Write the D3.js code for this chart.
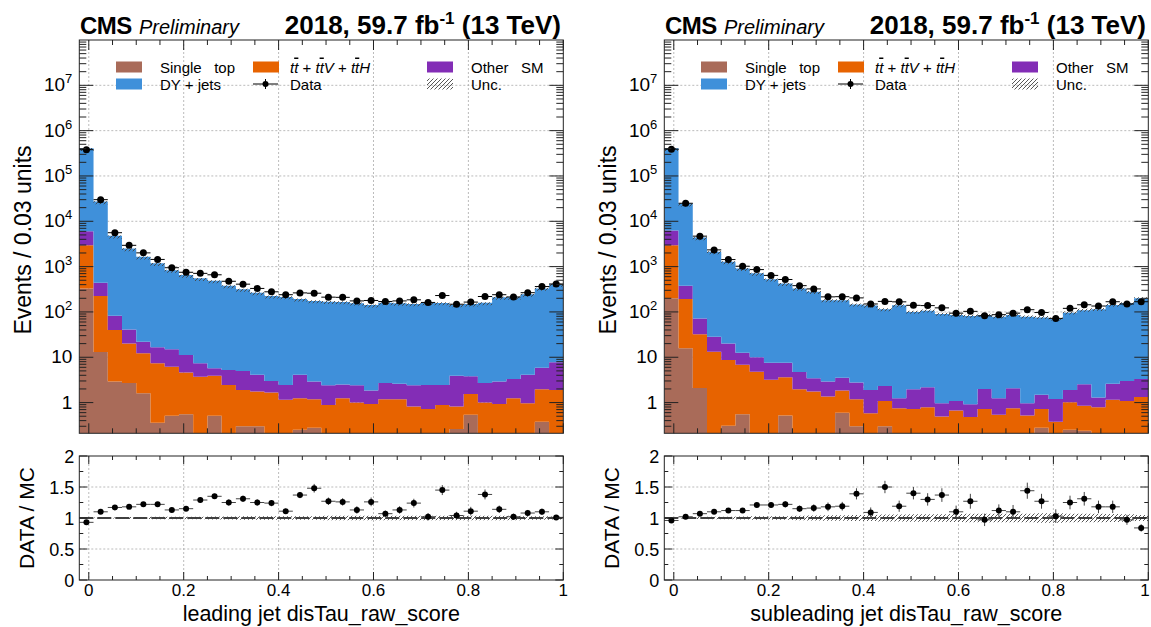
<!DOCTYPE html>
<html>
<head>
<meta charset="utf-8">
<script src="https://cdn.jsdelivr.net/npm/d3@7"></script>
<style>
  body { margin: 0; background: #fff; }
  svg text { font-family: 'Liberation Sans', Arial, Helvetica, sans-serif; fill: #000; }
</style>
</head>
<body>
<script>
const outerWidth = 1151
const outerHeight = 627

// 34 bins of 0.03 starting at -0.02
const xMin = -0.02
const binWidth = 0.03
const nBins = 34

// leading jet
const leadSingleTop = [330, 13, 2.9, 2.7, 1.6, 0.36, 0.51, 0.55, 0, 0.51, 0, 0.3, 0.3, 0, 0, 0.25, 0.28, 0, 0, 0, 0, 0, 0, 0, 0, 0, 0.26, 0.54, 0, 0, 0, 0, 0.38, 0]
const leadTT = [2640, 211, 37, 17.3, 10.7, 7.0, 5.7, 4.05, 3.7, 3.4, 2.45, 1.6, 1.45, 1.66, 1.15, 1.0, 0.9, 0.89, 1.25, 1.0, 0.93, 1.19, 1.19, 0.82, 0.72, 0.89, 0.56, 1.01, 1.0, 0.93, 1.25, 0.97, 1.59, 1.9]
const leadOther = [3030, 216, 42, 21, 9.7, 9.2, 8.8, 6.6, 3.7, 1.8, 2.8, 3.1, 2.35, 1.34, 1.3, 2.85, 1.72, 1.51, 1.25, 1.4, 0.91, 1.51, 1.41, 1.58, 1.73, 1.56, 3.08, 2.25, 1.7, 1.97, 2.05, 3.13, 3.93, 5.9]
const leadDY = [404000, 27060, 4718, 2459, 1628, 1163, 820, 639, 543, 484, 375, 310, 261, 221, 212, 188, 172, 165, 164, 153, 140, 156, 152, 147, 156, 156, 138, 145, 156, 207, 207, 242, 324, 402]
const leadData = [380000, 30000, 5600, 2950, 2010, 1440, 945, 750, 710, 660, 475, 410, 330, 278, 240, 263, 259, 212, 210, 175, 179, 170, 175, 185, 162, 230, 148, 165, 219, 240, 214, 266, 363, 414]
const leadRatio = [0.93, 1.10, 1.17, 1.18, 1.22, 1.22, 1.13, 1.15, 1.29, 1.35, 1.25, 1.31, 1.25, 1.24, 1.11, 1.37, 1.48, 1.27, 1.26, 1.13, 1.26, 1.07, 1.13, 1.24, 1.02, 1.45, 1.04, 1.11, 1.38, 1.14, 1.02, 1.08, 1.10, 1.01]
const leadRatioErr = [0.005, 0.01, 0.01, 0.015, 0.02, 0.02, 0.025, 0.03, 0.04, 0.04, 0.05, 0.05, 0.05, 0.05, 0.04, 0.05, 0.07, 0.06, 0.06, 0.06, 0.07, 0.05, 0.06, 0.07, 0.06, 0.08, 0.06, 0.07, 0.08, 0.06, 0.05, 0.05, 0.05, 0.03]
const leadUnc = [0.005, 0.01, 0.01, 0.015, 0.015, 0.02, 0.02, 0.02, 0.02, 0.025, 0.025, 0.03, 0.03, 0.03, 0.03, 0.03, 0.03, 0.035, 0.035, 0.035, 0.035, 0.035, 0.035, 0.035, 0.035, 0.035, 0.035, 0.035, 0.035, 0.035, 0.035, 0.03, 0.03, 0.025]

// subleading jet
const subSingleTop = [200, 15.8, 2.1, 0, 0.31, 0.55, 0, 0, 0.52, 0, 0, 0, 0.6, 0.3, 0, 0.3, 0, 0, 0, 0, 0, 0, 0, 0, 0, 0, 0.28, 0, 0.25, 0.24, 0, 0, 0, 0]
const subTT = [2770, 176, 29.9, 13.3, 8.4, 6.25, 4.8, 3.2, 3.08, 1.97, 1.75, 1.36, 1.24, 0.89, 0.58, 0.79, 0.75, 0.72, 0.79, 0.49, 0.67, 0.48, 0.72, 0.54, 0.75, 0.52, 0.44, 0.38, 0.77, 0.61, 0.79, 1.15, 1.09, 1.33]
const subOther = [3330, 188, 40, 15.2, 11.3, 5.8, 5.2, 4.4, 4.0, 2.73, 1.7, 1.54, 1.71, 1.57, 1.32, 1.24, 0.5, 1.25, 1.39, 0.48, 0.42, 0.44, 1.28, 0.71, 1.32, 0.45, 0.76, 0.82, 0.88, 1.69, 0.5, 1.45, 1.91, 1.97]
const subDY = [403700, 24220, 4328, 2101, 1260, 897, 700, 522, 417, 325, 274, 179, 178, 144, 136, 112, 139, 98, 104, 89, 84, 80, 83, 77, 83, 77, 74, 69, 94, 107, 113, 139, 152, 197]
const subData = [390000, 25000, 4700, 2340, 1430, 1020, 860, 640, 520, 380, 322, 215, 217, 204, 150, 171, 167, 140, 138, 123, 94, 103, 82, 87, 94, 112, 97, 72, 120, 144, 135, 168, 150, 168]
const subRatio = [0.96, 1.02, 1.07, 1.10, 1.12, 1.12, 1.21, 1.21, 1.22, 1.15, 1.16, 1.18, 1.19, 1.39, 1.09, 1.50, 1.19, 1.40, 1.30, 1.37, 1.10, 1.27, 0.97, 1.12, 1.10, 1.44, 1.27, 1.03, 1.25, 1.31, 1.18, 1.18, 0.97, 0.84]
const subRatioErr = [0.005, 0.01, 0.015, 0.02, 0.02, 0.03, 0.03, 0.04, 0.05, 0.05, 0.06, 0.07, 0.07, 0.09, 0.08, 0.1, 0.09, 0.1, 0.1, 0.11, 0.1, 0.12, 0.1, 0.1, 0.11, 0.13, 0.12, 0.11, 0.11, 0.11, 0.1, 0.1, 0.08, 0.06]
const subUnc = [0.005, 0.01, 0.015, 0.02, 0.02, 0.025, 0.03, 0.03, 0.03, 0.035, 0.04, 0.045, 0.045, 0.05, 0.05, 0.055, 0.055, 0.06, 0.06, 0.06, 0.065, 0.07, 0.07, 0.07, 0.07, 0.07, 0.075, 0.075, 0.07, 0.07, 0.07, 0.065, 0.06, 0.05]

const processKeys = ['singleTop', 'ttbar', 'otherSM', 'dyJets']
const colors = {
  singleTop: '#a96b59',
  ttbar: '#e76300',
  otherSM: '#832db6',
  dyJets: '#3f90da'
}
const yTickValues = [1, 10, 100, 1e3, 1e4, 1e5, 1e6, 1e7]
const xTickValues = [0, 0.2, 0.4, 0.6, 0.8, 1]
const ratioTickValues = [0, 0.5, 1, 1.5, 2]

const panels = [
  {
    dx: 0, xTitle: 'leading jet disTau_raw_score',
    singleTop: leadSingleTop, ttbar: leadTT, otherSM: leadOther, dyJets: leadDY,
    data: leadData, ratio: leadRatio, ratioErr: leadRatioErr, unc: leadUnc
  },
  {
    dx: 585, xTitle: 'subleading jet disTau_raw_score',
    singleTop: subSingleTop, ttbar: subTT, otherSM: subOther, dyJets: subDY,
    data: subData, ratio: subRatio, ratioErr: subRatioErr, unc: subUnc
  }
]

const frame = { left: 79.3, right: 563.3, top: 40, bottom: 433.3, rTop: 456, rBottom: 580 }
const yMin = 0.21
const yMax = 1e8
const edges = d3.range(nBins + 1).map(i => xMin + i * binWidth)

const svg = d3.select('body').append('svg')
  .attr('width', outerWidth)
  .attr('height', outerHeight)

const defs = svg.append('defs')
defs.append('pattern')
  .attr('id', 'hatch')
  .attr('patternUnits', 'userSpaceOnUse')
  .attr('width', 4)
  .attr('height', 4)
  .append('path')
  .attr('d', 'M-1,1 l2,-2 M0,4 l4,-4 M3,5 l2,-2')
  .attr('stroke', '#444')
  .attr('stroke-width', 0.9)

function steps(lo, hi) {
  return lo.flatMap((l, i) => [
    { x: edges[i], lo: l, hi: hi[i] },
    { x: edges[i + 1], lo: l, hi: hi[i] }
  ])
}

function expLabel(sel, v) {
  const e = Math.round(Math.log10(v))
  if (e < 2) {
    sel.text(String(v))
  } else {
    sel.append('tspan').text('10')
    sel.append('tspan').attr('dy', -8).attr('font-size', 13).text(e)
  }
}

function drawPanel(p, idx) {
  const g = svg.append('g')
  const L = frame.left + p.dx
  const R = frame.right + p.dx

  const xScale = d3.scaleLinear().domain([xMin, 1]).range([L, R])
  const yScale = d3.scaleLog().domain([yMin, yMax]).range([frame.bottom, frame.top])
  const rScale = d3.scaleLinear().domain([0, 2]).range([frame.rBottom, frame.rTop])

  defs.append('clipPath').attr('id', 'clipMain' + idx)
    .append('rect').attr('x', L).attr('y', frame.top)
    .attr('width', R - L).attr('height', frame.bottom - frame.top)

  const grid = g.append('g')
    .attr('stroke', '#aaa').attr('stroke-width', 0.8).attr('stroke-dasharray', '2,2')
  xTickValues.slice(0, -1).forEach(v => {
    grid.append('line').attr('x1', xScale(v)).attr('x2', xScale(v))
      .attr('y1', frame.top).attr('y2', frame.bottom)
    grid.append('line').attr('x1', xScale(v)).attr('x2', xScale(v))
      .attr('y1', frame.rTop).attr('y2', frame.rBottom)
  })
  yTickValues.forEach(v => {
    grid.append('line').attr('x1', L).attr('x2', R)
      .attr('y1', yScale(v)).attr('y2', yScale(v))
  })
  ;[0.5, 1.5].forEach(v => {
    grid.append('line').attr('x1', L).attr('x2', R)
      .attr('y1', rScale(v)).attr('y2', rScale(v))
  })

  // stacked histograms
  const rows = d3.range(nBins).map(i => ({
    singleTop: p.singleTop[i], ttbar: p.ttbar[i], otherSM: p.otherSM[i], dyJets: p.dyJets[i]
  }))
  const series = d3.stack().keys(processKeys)(rows)
  const area = d3.area()
    .x(d => xScale(d.x))
    .y0(d => yScale(Math.max(d.lo, yMin)))
    .y1(d => yScale(Math.max(d.hi, yMin)))

  const main = g.append('g').attr('clip-path', `url(#clipMain${idx})`)
  series.forEach(s => {
    main.append('path')
      .attr('d', area(steps(s.map(d => d[0]), s.map(d => d[1]))))
      .attr('fill', colors[s.key])
  })

  const total = series[series.length - 1].map(d => d[1])
  const bandArea = d3.area()
    .x(d => xScale(d.x))
    .y1(d => yScale(d.hi))
    .y0(d => Math.max(yScale(d.lo), yScale(d.hi) + 3))
  main.append('path')
    .attr('d', bandArea(steps(total.map((t, i) => t * (1 - p.unc[i])), total.map((t, i) => t * (1 + p.unc[i])))))
    .attr('fill', 'url(#hatch)')

  // data
  const dataG = g.append('g')
  p.data.forEach((v, i) => {
    const cy = yScale(v)
    dataG.append('line')
      .attr('x1', xScale(edges[i])).attr('x2', xScale(edges[i + 1]))
      .attr('y1', cy).attr('y2', cy)
      .attr('stroke', '#000').attr('stroke-width', 1)
    dataG.append('circle')
      .attr('cx', xScale(edges[i] + binWidth / 2)).attr('cy', cy)
      .attr('r', 3.5).attr('fill', '#000')
  })

  // ratio panel
  const rArea = d3.area()
    .x(d => xScale(d.x))
    .y0(d => rScale(d.lo))
    .y1(d => rScale(d.hi))
  g.append('line')
    .attr('x1', L).attr('x2', R)
    .attr('y1', rScale(1)).attr('y2', rScale(1))
    .attr('stroke', '#000').attr('stroke-width', 1.6)
    .attr('stroke-dasharray', '14,4')
  g.append('path')
    .attr('d', rArea(steps(p.unc.map(u => 1 - u), p.unc.map(u => 1 + u))))
    .attr('fill', 'url(#hatch)')

  const ratioG = g.append('g')
  p.ratio.forEach((v, i) => {
    const cx = xScale(edges[i] + binWidth / 2)
    ratioG.append('line')
      .attr('x1', xScale(edges[i])).attr('x2', xScale(edges[i + 1]))
      .attr('y1', rScale(v)).attr('y2', rScale(v))
      .attr('stroke', '#444').attr('stroke-width', 1)
    ratioG.append('line')
      .attr('x1', cx).attr('x2', cx)
      .attr('y1', rScale(v - p.ratioErr[i])).attr('y2', rScale(v + p.ratioErr[i]))
      .attr('stroke', '#444').attr('stroke-width', 1)
    ratioG.append('circle')
      .attr('cx', cx).attr('cy', rScale(v))
      .attr('r', 3).attr('fill', '#000')
  })

  // frames and ticks
  const axes = g.append('g').attr('stroke', '#222').attr('stroke-width', 1).attr('fill', 'none')
  axes.append('rect').attr('x', L).attr('y', frame.top)
    .attr('width', R - L).attr('height', frame.bottom - frame.top)
  axes.append('rect').attr('x', L).attr('y', frame.rTop)
    .attr('width', R - L).attr('height', frame.rBottom - frame.rTop)

  const xMinor = d3.range(0, 21).map(i => i * 0.05)
  xMinor.forEach(v => {
    const major = xTickValues.some(t => Math.abs(t - v) < 1e-9)
    const x = xScale(v)
    const lm = major ? 10 : 5
    const lr = major ? 8 : 4
    axes.append('line').attr('x1', x).attr('x2', x).attr('y1', frame.top).attr('y2', frame.top + lm)
    axes.append('line').attr('x1', x).attr('x2', x).attr('y1', frame.bottom).attr('y2', frame.bottom - lm)
    axes.append('line').attr('x1', x).attr('x2', x).attr('y1', frame.rTop).attr('y2', frame.rTop + lr)
    axes.append('line').attr('x1', x).attr('x2', x).attr('y1', frame.rBottom).attr('y2', frame.rBottom - lr)
  })

  d3.range(-1, 8).forEach(k => {
    d3.range(1, 10).forEach(m => {
      const v = m * Math.pow(10, k)
      if (v < yMin || v > yMax) return
      const y = yScale(v)
      const len = m === 1 ? 14 : 7
      axes.append('line').attr('x1', L).attr('x2', L + len).attr('y1', y).attr('y2', y)
      axes.append('line').attr('x1', R).attr('x2', R - len).attr('y1', y).attr('y2', y)
    })
  })

  d3.range(0, 9).map(i => i * 0.25).forEach((v, i) => {
    const y = rScale(v)
    const len = i % 2 === 0 ? 8 : 4
    axes.append('line').attr('x1', L).attr('x2', L + len).attr('y1', y).attr('y2', y)
    axes.append('line').attr('x1', R).attr('x2', R - len).attr('y1', y).attr('y2', y)
  })

  // labels
  yTickValues.forEach(v => {
    g.append('text')
      .attr('x', L - 7).attr('y', yScale(v) + 6)
      .attr('text-anchor', 'end').attr('font-size', 19)
      .call(expLabel, v)
  })
  ratioTickValues.forEach(v => {
    g.append('text')
      .attr('x', L - 5).attr('y', rScale(v) + 6.5)
      .attr('text-anchor', 'end').attr('font-size', 18)
      .text(String(v))
  })
  xTickValues.forEach(v => {
    g.append('text')
      .attr('x', Math.min(xScale(v), outerWidth - 6)).attr('y', 596)
      .attr('text-anchor', 'middle').attr('font-size', 17)
      .text(String(v))
  })

  g.append('text')
    .attr('transform', `translate(${31 + p.dx},240) rotate(-90)`)
    .attr('text-anchor', 'middle').attr('font-size', 23)
    .text('Events / 0.03 units')
  g.append('text')
    .attr('transform', `translate(${34 + p.dx},518) rotate(-90)`)
    .attr('text-anchor', 'middle').attr('font-size', 21)
    .text('DATA / MC')
  g.append('text')
    .attr('x', (L + R) / 2).attr('y', 621)
    .attr('text-anchor', 'middle').attr('font-size', 21.5)
    .text(p.xTitle)

  g.append('text')
    .attr('x', 80 + p.dx).attr('y', 34)
    .attr('font-size', 24).attr('font-weight', 'bold')
    .attr('letter-spacing', -0.5)
    .text('CMS')
  g.append('text')
    .attr('x', 139 + p.dx).attr('y', 34)
    .attr('font-size', 20).attr('font-style', 'italic')
    .text('Preliminary')
  const lumi = g.append('text')
    .attr('x', 561 + p.dx).attr('y', 34)
    .attr('text-anchor', 'end')
    .attr('font-size', 26).attr('font-weight', 'bold')
  lumi.append('tspan').text('2018, 59.7 fb')
  lumi.append('tspan').attr('dy', -10).attr('font-size', 17).text('-1')
  lumi.append('tspan').attr('dy', 10).text(' (13 TeV)')

  drawLegend(g, p.dx)
}

function drawLegend(g, dx) {
  const rowY = [67, 84]
  const boxX = [116, 253, 427]
  const textX = [160, 290, 471]
  const boxes = [
    { key: 'singleTop', col: 0, row: 0 },
    { key: 'ttbar', col: 1, row: 0 },
    { key: 'otherSM', col: 2, row: 0 },
    { key: 'dyJets', col: 0, row: 1 }
  ]
  boxes.forEach(b => {
    g.append('rect')
      .attr('x', boxX[b.col] + dx).attr('y', rowY[b.row] - 5.5)
      .attr('width', 26).attr('height', 11)
      .attr('fill', colors[b.key])
  })
  g.append('rect')
    .attr('x', boxX[2] + dx).attr('y', rowY[1] - 5.5)
    .attr('width', 26).attr('height', 11)
    .attr('fill', 'url(#hatch)')
  g.append('line')
    .attr('x1', boxX[1] + dx).attr('x2', boxX[1] + 25 + dx)
    .attr('y1', rowY[1]).attr('y2', rowY[1])
    .attr('stroke', '#000')
  g.append('line')
    .attr('x1', boxX[1] + 12.5 + dx).attr('x2', boxX[1] + 12.5 + dx)
    .attr('y1', rowY[1] - 5).attr('y2', rowY[1] + 5)
    .attr('stroke', '#000')
  g.append('circle')
    .attr('cx', boxX[1] + 12.5 + dx).attr('cy', rowY[1])
    .attr('r', 3).attr('fill', '#000')

  const plain = [
    { text: 'Single   top', col: 0, row: 0 },
    { text: 'Other   SM', col: 2, row: 0 },
    { text: 'DY + jets', col: 0, row: 1 },
    { text: 'Data', col: 1, row: 1 },
    { text: 'Unc.', col: 2, row: 1 }
  ]
  plain.forEach(t => {
    g.append('text')
      .attr('x', textX[t.col] + dx).attr('y', rowY[t.row] + 5.5)
      .attr('font-size', 15)
      .attr('xml:space', 'preserve')
      .style('white-space', 'pre')
      .text(t.text)
  })

  const tt = g.append('text')
    .attr('x', textX[1] + dx).attr('y', rowY[0] + 5.5)
    .attr('font-size', 15)
    .style('white-space', 'pre')
  const parts = [
    ['t', true, false], ['t', true, true], [' + ', false, false],
    ['t', true, false], ['t', true, true], ['V', true, false], [' + ', false, false],
    ['t', true, false], ['t', true, true], ['H', true, false]
  ]
  parts.forEach(([s, it, bar]) => {
    tt.append('tspan')
      .attr('font-style', it ? 'italic' : 'normal')
      .style('text-decoration', bar ? 'overline' : 'none')
      .text(s)
  })
}

panels.forEach(drawPanel)
</script>
</body>
</html>
